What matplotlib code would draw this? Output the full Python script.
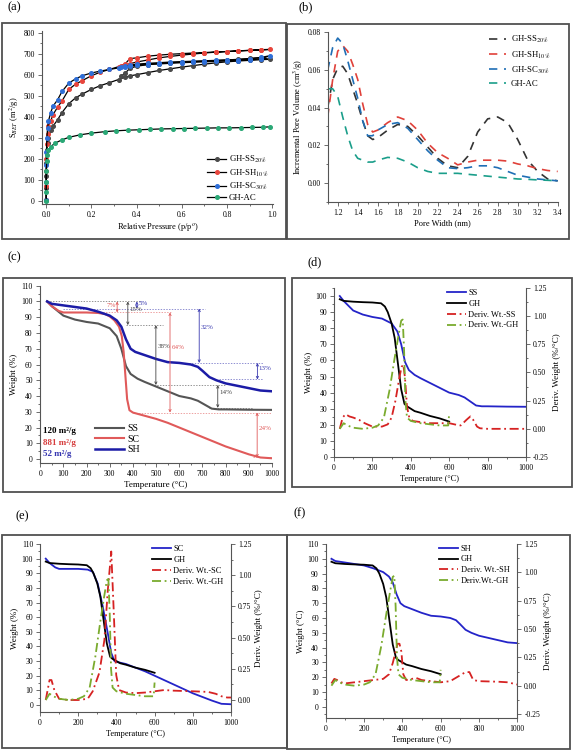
import matplotlib
matplotlib.use('Agg')
import matplotlib.pyplot as plt
from matplotlib.patches import Rectangle
from matplotlib.ticker import MultipleLocator, FormatStrFormatter

plt.rcParams['font.family'] = ['Liberation Serif', 'DejaVu Serif']
plt.rcParams['mathtext.fontset'] = 'stix'

# ---------------- (a) BET isotherms ----------------
p_ads = [0.0, 0.0002, 0.0005, 0.001, 0.003, 0.006, 0.01, 0.02, 0.03, 0.05, 0.07, 0.1, 0.13, 0.16,
         0.2, 0.24, 0.28, 0.32, 0.35, 0.37, 0.4, 0.45, 0.5, 0.55, 0.6, 0.65, 0.7, 0.75, 0.8, 0.85,
         0.9, 0.95, 0.99]
p_des = [0.95, 0.9, 0.85, 0.8, 0.75, 0.7, 0.65, 0.6, 0.55, 0.5, 0.45, 0.4, 0.37, 0.35, 0.33]
ss_ads = [5, 60, 120, 180, 240, 275, 300, 335, 355, 385, 420, 462, 490, 508, 530, 548, 562, 577, 588,
          594, 600, 610, 620, 628, 636, 643, 650, 656, 661, 665, 668, 671, 673]
ss_des = [681, 677, 673, 670, 667, 664, 662, 660, 657, 653, 648, 640, 630, 608, 592]
sh_ads = [5, 70, 140, 200, 270, 320, 355, 380, 410, 445, 475, 530, 555, 572, 595, 612, 625, 638, 647,
          652, 660, 670, 680, 687, 693, 698, 703, 707, 710, 713, 715, 717, 720]
sh_des = [719, 716, 713, 710, 708, 705, 703, 700, 697, 693, 688, 680, 676, 652, 642]
sc_ads = [5, 90, 170, 230, 300, 345, 380, 420, 450, 480, 520, 560, 580, 595, 608, 617, 625, 632, 636,
          640, 644, 648, 651, 654, 657, 659, 661, 663, 665, 667, 670, 675, 690]
sc_des = [682, 676, 672, 670, 668, 666, 664, 662, 660, 657, 654, 650, 645, 640, 636]
p_ac = [0.0, 0.0002, 0.0005, 0.001, 0.002, 0.005, 0.01, 0.02, 0.04, 0.07, 0.1, 0.15, 0.2, 0.26, 0.31,
        0.36, 0.41, 0.46, 0.51, 0.56, 0.61, 0.66, 0.71, 0.76, 0.81, 0.86, 0.91, 0.96, 0.99]
ac_ads = [0, 40, 90, 140, 190, 220, 240, 258, 275, 290, 302, 314, 322, 329, 333, 336, 338, 340, 342,
          343, 344, 345, 346, 347, 347, 348, 349, 350, 352]

# ---------------- (b) pore size distribution ----------------
pore_w = [1.1, 1.15, 1.2, 1.25, 1.3, 1.35, 1.4, 1.45, 1.5, 1.55, 1.6, 1.7, 1.8, 1.9, 2.0, 2.1, 2.2,
          2.3, 2.4, 2.5, 2.6, 2.7, 2.8, 2.9, 3.0, 3.1, 3.2, 3.3, 3.4]
psd_ss = [0.040, 0.055, 0.061, 0.062, 0.058, 0.050, 0.042, 0.033, 0.025, 0.023, 0.024, 0.028, 0.031,
          0.030, 0.025, 0.019, 0.013, 0.009, 0.008, 0.014, 0.027, 0.034, 0.035, 0.032, 0.023, 0.012,
          0.006, 0.002, 0.001]
psd_sh = [0.035, 0.055, 0.070, 0.073, 0.070, 0.063, 0.055, 0.042, 0.031, 0.027, 0.028, 0.032, 0.035,
          0.033, 0.028, 0.021, 0.016, 0.013, 0.0095, 0.011, 0.012, 0.012, 0.012, 0.0115, 0.010,
          0.009, 0.0075, 0.0065, 0.006]
psd_sc = [0.060, 0.072, 0.077, 0.074, 0.065, 0.055, 0.045, 0.033, 0.025, 0.025, 0.028, 0.031, 0.032,
          0.029, 0.023, 0.017, 0.012, 0.008, 0.0075, 0.008, 0.009, 0.009, 0.008, 0.006, 0.004, 0.003,
          0.002, 0.0015, 0.001]
psd_ac = [0.050, 0.050, 0.046, 0.035, 0.025, 0.017, 0.013, 0.012, 0.011, 0.011, 0.012, 0.0135, 0.013,
          0.011, 0.008, 0.006, 0.005, 0.005, 0.005, 0.0045, 0.004, 0.0035, 0.003, 0.0025, 0.002,
          0.0018, 0.0015, 0.0013, 0.001]

# ---------------- (c)-(f) TGA / DTG ----------------
t_ss = [30, 50, 100, 150, 200, 250, 300, 330, 350, 370, 390, 420, 450, 500, 550, 600, 650, 680, 710,
        740, 770, 800, 900, 1000]
w_ss = [100, 97, 91, 88.5, 87, 86, 83, 78, 70, 59, 54, 51, 49, 46, 43, 40, 38.5, 37, 34.5, 32, 31.5,
        31.5, 31.3, 31.2]
t_sc = [30, 50, 80, 100, 200, 250, 280, 300, 320, 340, 352, 360, 368, 375, 385, 400, 450, 500, 550,
        600, 700, 800, 900, 950, 1000]
w_sc = [100, 97, 94, 93, 93, 92.7, 92, 90.5, 88, 84, 78, 68, 52, 38, 31, 29.5, 27.5, 25.5, 23, 20,
        14, 8, 3, 1, 0.5]
t_sh = [30, 50, 100, 150, 200, 250, 300, 330, 350, 370, 390, 410, 450, 500, 550, 600, 650, 680, 700,
        730, 760, 800, 850, 900, 950, 1000]
w_sh = [100, 98.5, 97.5, 96.5, 95.5, 93.5, 91, 88, 84, 76, 70, 68, 66, 63.5, 61.5, 61, 60, 58.5, 56,
        52, 50, 48, 46.5, 45, 43.5, 43]
bet_area = ['120 m\u00b2/g', '881 m\u00b2/g', '52 m\u00b2/g']

# SC curve as drawn in panel (e)
t_sc_e = [30, 50, 80, 100, 200, 250, 276, 302, 329, 355, 373, 390, 400, 450, 500, 550, 600, 700, 800,
          900, 950, 1000]
w_sc_e = [100, 97, 94, 93, 93, 92.5, 91, 83, 67, 49, 35.5, 30, 29.5, 28, 25.5, 23, 20, 14, 8, 3, 0.8,
          0.5]

t_gh = [30, 50, 100, 150, 200, 245, 265, 280, 300, 316, 333, 350, 367, 380, 400, 420, 450, 500, 550, 600]
w_gh = [98, 97, 96.5, 96.2, 96, 95.5, 93.5, 90, 83, 74, 58, 42, 33, 31.5, 30, 28.5, 27.5, 25.5, 24, 22]

t_dgh = [30, 50, 70, 100, 150, 200, 230, 260, 290, 315, 335, 350, 358, 365, 372, 380, 400, 450, 500,
         550, 595, 600]
d_gh = [0.0, 0.05, 0.03, 0.01, 0.0, 0.01, 0.03, 0.1, 0.35, 0.62, 0.82, 0.96, 0.97, 0.7, 0.25, 0.1,
        0.07, 0.05, 0.04, 0.03, 0.03, 0.14]
t_dss = [30, 45, 60, 80, 100, 130, 160, 200, 250, 280, 300, 320, 340, 352, 361, 370, 380, 392, 410,
         450, 500, 550, 600, 640, 660, 690, 710, 725, 745, 760, 800, 900, 1000]
d_ss = [0.0, 0.1, 0.13, 0.11, 0.1, 0.08, 0.05, 0.02, 0.02, 0.04, 0.1, 0.25, 0.45, 0.55, 0.57, 0.45,
        0.2, 0.1, 0.07, 0.06, 0.05, 0.05, 0.05, 0.035, 0.03, 0.08, 0.11, 0.08, 0.02, 0.005, 0.0, 0.0, 0.0]
t_dsc = [30, 50, 60, 75, 100, 150, 200, 250, 276, 311, 337, 355, 373, 385, 399, 414, 450, 500, 550,
         600, 650, 700, 800, 880, 920, 950, 980, 1000]
d_sc = [0.0, 0.16, 0.16, 0.08, 0.01, 0.0, 0.0, 0.01, 0.07, 0.22, 0.48, 0.88, 1.19, 0.75, 0.2, 0.08,
        0.06, 0.055, 0.06, 0.07, 0.08, 0.075, 0.07, 0.065, 0.05, 0.03, 0.02, 0.02]
t_dsh = [30, 45, 60, 80, 100, 150, 200, 250, 300, 330, 350, 365, 375, 385, 395, 405, 420, 450, 470,
         500, 550, 600, 650, 700, 730, 750, 770, 800, 900, 950, 1000]
d_sh = [0.02, 0.06, 0.05, 0.03, 0.02, 0.03, 0.04, 0.05, 0.06, 0.1, 0.2, 0.3, 0.37, 0.37, 0.3, 0.1,
        0.05, 0.06, 0.07, 0.05, 0.04, 0.03, 0.04, 0.09, 0.12, 0.12, 0.05, 0.04, 0.035, 0.03, 0.01]

# mass-loss annotations for (c): x, top, bottom, label, colour
steps_c = [(332, 100, 93, '7%', 'r', 'right'), (417, 100, 95.5, '5%', 'b', 'left'),
           (378, 100, 85, '15%', 'k', 'left'), (686, 95.5, 61, '32%', 'b', 'left'),
           (499, 85, 47, '38%', 'k', 'left'), (560, 93, 29.5, '64%', 'r', 'left'),
           (937, 61, 50.5, '13%', 'b', 'left'), (766, 47, 32.5, '14%', 'k', 'left'),
           (936, 29.5, 1, '24%', 'r', 'left')]
guides_c = [(100, 30, 430, 'k'), (95.5, 100, 710, 'b'), (93, 150, 570, 'r'), (85, 370, 530, 'k'),
            (61, 630, 960, 'b'), (50.5, 770, 960, 'b'), (47, 490, 800, 'k'), (32.5, 730, 920, 'k'),
            (29.5, 400, 1000, 'r'), (1, 920, 1000, 'r')]

GRAY = '#555555'
RED = '#e05a5a'
NAVY = '#1c1ca6'
cmap = {'k': '#444444', 'r': '#e05a5a', 'b': '#3a3ab0'}
DRED = '#d62222'
DGRN = '#7aab2e'
BLUE = '#2424c8'

W, H = 575, 751
fig = plt.figure(figsize=(W / 100, H / 100), dpi=100)


def axes_px(x0, y0, x1, y1):
    return fig.add_axes([x0 / W, 1 - y1 / H, (x1 - x0) / W, (y1 - y0) / H])


def frame(x0, y0, x1, y1, lab, lx, ly):
    fig.add_artist(Rectangle((x0 / W, 1 - y1 / H), (x1 - x0) / W, (y1 - y0) / H,
                             transform=fig.transFigure, fill=False, ec='#505050', lw=1.3))
    fig.text(lx / W, 1 - ly / H, lab, fontsize=9, ha='left', va='top')


def style(ax):
    ax.spines['top'].set_visible(False)
    for s in ax.spines.values():
        s.set_color('#555555')
        s.set_linewidth(0.8)
    ax.tick_params(which='both', direction='out', labelsize=5.5, width=0.6, color='#555555', pad=2)
    ax.tick_params(which='major', length=3)
    ax.tick_params(which='minor', length=1.7)


# ---- frames + panel letters
frame(2, 23, 286, 239, '(a)', 7, 1)
frame(287, 24, 569, 239, '(b)', 298, 1)
frame(3, 278, 285, 492, '(c)', 7, 251)
frame(292, 278, 572, 487, '(d)', 307, 256)
frame(2, 535, 287, 748, '(e)', 15, 510)
frame(287, 535, 570, 749, '(f)', 293, 507)

# ---- (a)
ax = axes_px(41.7, 30.5, 273.3, 204)
style(ax)
ax.spines['right'].set_visible(False)
iso = [('GH-SS$_{20\\%}$', ss_ads, ss_des, '#4a4a4a'), ('GH-SH$_{10\\%}$', sh_ads, sh_des, '#e8453c'),
       ('GH-SC$_{30\\%}$', sc_ads, sc_des, '#2f6fd8')]
for lab, a, d, c in iso:
    ax.plot(p_ads + p_des, a + d, color='black', lw=0.9, marker='o', ms=2.6, mfc=c, mec=c, label=lab)
ax.plot(p_ac, ac_ads, color='black', lw=0.9, marker='o', ms=2.6, mfc='#2aa876', mec='#2aa876',
        label='GH-AC')
ax.set_xlim(-0.02, 1.005)
ax.set_ylim(-15, 810)
ax.xaxis.set_major_locator(MultipleLocator(0.2))
ax.xaxis.set_minor_locator(MultipleLocator(0.1))
ax.xaxis.set_major_formatter(FormatStrFormatter('%.1f'))
ax.yaxis.set_major_locator(MultipleLocator(100))
ax.yaxis.set_minor_locator(MultipleLocator(50))
ax.set_xlabel('Relative Pressure (p/p$^{o}$)', fontsize=6, labelpad=2)
ax.set_ylabel('S$_{BET}$ (m$^{2}$/g)', fontsize=6, labelpad=2)
ax.legend(loc='lower right', bbox_to_anchor=(1.0, -0.02), fontsize=6.3, frameon=False,
          handlelength=2.2, handletextpad=0.3, labelspacing=0.25, borderaxespad=0.2)

# ---- (b)
ax = axes_px(327.7, 31.5, 557.7, 201.7)
style(ax)
ax.spines['right'].set_visible(False)
for lab, v, c in [('GH-SS$_{20\\%}$', psd_ss, '#333333'), ('GH-SH$_{10\\%}$', psd_sh, '#e0413a'),
                  ('GH-SC$_{30\\%}$', psd_sc, '#1f6eb5'), ('GH-AC', psd_ac, '#1a9e8a')]:
    ax.plot(pore_w, v, ls=(0, (5, 4)), color=c, lw=1.2, label=lab)
ax.set_xlim(1.1, 3.4)
ax.set_ylim(-0.0101, 0.0805)
ax.xaxis.set_major_locator(MultipleLocator(0.2))
ax.xaxis.set_minor_locator(MultipleLocator(0.1))
ax.xaxis.set_major_formatter(FormatStrFormatter('%.1f'))
ax.yaxis.set_major_locator(MultipleLocator(0.02))
ax.yaxis.set_minor_locator(MultipleLocator(0.01))
ax.yaxis.set_major_formatter(FormatStrFormatter('%.2f'))
ax.set_xlabel('Pore Width (nm)', fontsize=6, labelpad=2)
ax.set_ylabel('Incremental Pore Volume (cm$^{3}$/g)', fontsize=6, labelpad=2)
ax.legend(loc='upper right', bbox_to_anchor=(1.0, 1.03), fontsize=6.3, frameon=False,
          handlelength=2.0, handletextpad=0.5, labelspacing=0.45)

# ---- (c)
ax = axes_px(39.5, 285.7, 272, 463)
style(ax)
ax.spines['right'].set_visible(False)
for y, x0, x1, c in guides_c:
    ax.hlines(y, x0, x1, colors=cmap[c], linestyles=(0, (2, 2)), lw=0.5, alpha=0.8)
for x, y0, y1, lab, c, side in steps_c:
    ax.annotate('', xy=(x, y1), xytext=(x, y0),
                arrowprops=dict(arrowstyle='<->', color=cmap[c], lw=0.6, mutation_scale=4,
                                shrinkA=0, shrinkB=0))
    ym = (y0 + y1) / 2
    if side == 'right':
        ax.text(x - 4, ym + 1, lab, color=cmap[c], fontsize=5, ha='right', va='center')
    else:
        ax.text(x + 6, ym + (y0 - y1) * 0.15, lab, color=cmap[c], fontsize=5, ha='left', va='center')
l1, = ax.plot(t_ss, w_ss, color=GRAY, lw=1.5, label='SS')
l2, = ax.plot(t_sc, w_sc, color=RED, lw=1.5, label='SC')
l3, = ax.plot(t_sh, w_sh, color=NAVY, lw=1.8, label='SH')
ax.set_xlim(-3, 1000)
ax.set_ylim(-2.5, 110)
ax.xaxis.set_major_locator(MultipleLocator(100))
ax.xaxis.set_minor_locator(MultipleLocator(50))
ax.yaxis.set_major_locator(MultipleLocator(10))
ax.yaxis.set_minor_locator(MultipleLocator(5))
ax.set_xlabel('Temperature (\u00b0C)', fontsize=6.5, labelpad=2)
ax.set_ylabel('Weight (%)', fontsize=6.5, labelpad=2)
ax.legend(handles=[l1, l2, l3], loc='lower left', bbox_to_anchor=(0.2, 0.0), fontsize=7,
          frameon=False, handlelength=3.0, handletextpad=0.4, labelspacing=0.15)
for i, (txt, c) in enumerate(zip(bet_area, ['black', '#d63c3c', '#3434b0'])):
    ax.text(0.015, 0.178 - i * 0.064, txt, transform=ax.transAxes, color=c, fontsize=6.5,
            fontweight='bold', va='center')


# ---- (d), (e), (f)
def tga_panel(box, wt, dtg, left_lim, right_lim, left_top, right_lo, ylab):
    ax = axes_px(*box)
    style(ax)
    ax.spines['right'].set_visible(False)
    ax2 = ax.twinx()
    style(ax2)
    ax2.spines['left'].set_visible(False)
    ax2.spines['bottom'].set_visible(False)
    hs = []
    for t, w, c, lab in wt:
        h, = ax.plot(t, w, color=c, lw=1.3, label=lab)
        hs.append(h)
    for t, d, c, lab in dtg:
        h, = ax2.plot(t, d, color=c, lw=1.3, ls=(0, (5, 2, 1, 2)), label=lab)
        hs.append(h)
    ax.set_xlim(box[4] if len(box) > 4 else 0, 1000)
    ax.set_ylim(*left_lim)
    ax2.set_ylim(*right_lim)
    ax.xaxis.set_major_locator(MultipleLocator(200))
    ax.xaxis.set_minor_locator(MultipleLocator(100))
    ax.set_yticks(range(0, left_top + 1, 10))
    ax.yaxis.set_minor_locator(MultipleLocator(5))
    rt = [right_lo + 0.25 * i for i in range(int(round((1.25 - right_lo) / 0.25)) + 1)]
    ax2.set_yticks(rt)
    ax2.yaxis.set_minor_locator(MultipleLocator(0.125))
    ax2.yaxis.set_major_formatter(FormatStrFormatter('%.2f'))
    ax.set_xlabel('Temperature (\u00b0C)', fontsize=6, labelpad=2)
    ax.set_ylabel(ylab, fontsize=6.5, labelpad=2)
    ax2.set_ylabel('Deriv. Weight (%/\u00b0C)', fontsize=6.5, labelpad=3)
    ax2.legend(handles=hs, loc='upper right', bbox_to_anchor=(1.0, 1.04), fontsize=6,
               frameon=False, handlelength=2.3, handletextpad=0.3, labelspacing=0.35)
    return ax


tga_panel((334, 288, 526, 457),
          [(t_ss, w_ss, BLUE, 'SS'), (t_gh, w_gh, 'black', 'GH')],
          [(t_dss, d_ss, DRED, 'Deriv. Wt.-SS'), (t_dgh, d_gh, DGRN, 'Deriv. Wt.-GH')],
          (0, 105), (-0.25, 1.25), 100, -0.25, 'Weight (%)')
tga_panel((40, 544, 231, 712),
          [(t_sc_e, w_sc_e, BLUE, 'SC'), (t_gh, w_gh, 'black', 'GH')],
          [(t_dsc, d_sc, DRED, 'Deriv. Wt.-SC'), (t_dgh, d_gh, DGRN, 'Deriv. Wt.-GH')],
          (-4.8, 110), (-0.096, 1.25), 110, 0.0, 'Weight (%)')
tga_panel((325.7, 544, 517.3, 718),
          [(t_sh, w_sh, BLUE, 'SH'), (t_gh, w_gh, 'black', 'GH')],
          [(t_dsh, d_sh, DRED, 'Deriv. Wt.-SH'), (t_dgh, d_gh, DGRN, 'Deriv.Wt.-GH')],
          (-7.6, 110), (-0.285, 1.25), 110, -0.25, 'Weight (\u00b0C)')

fig.savefig('out.png', dpi=100)
